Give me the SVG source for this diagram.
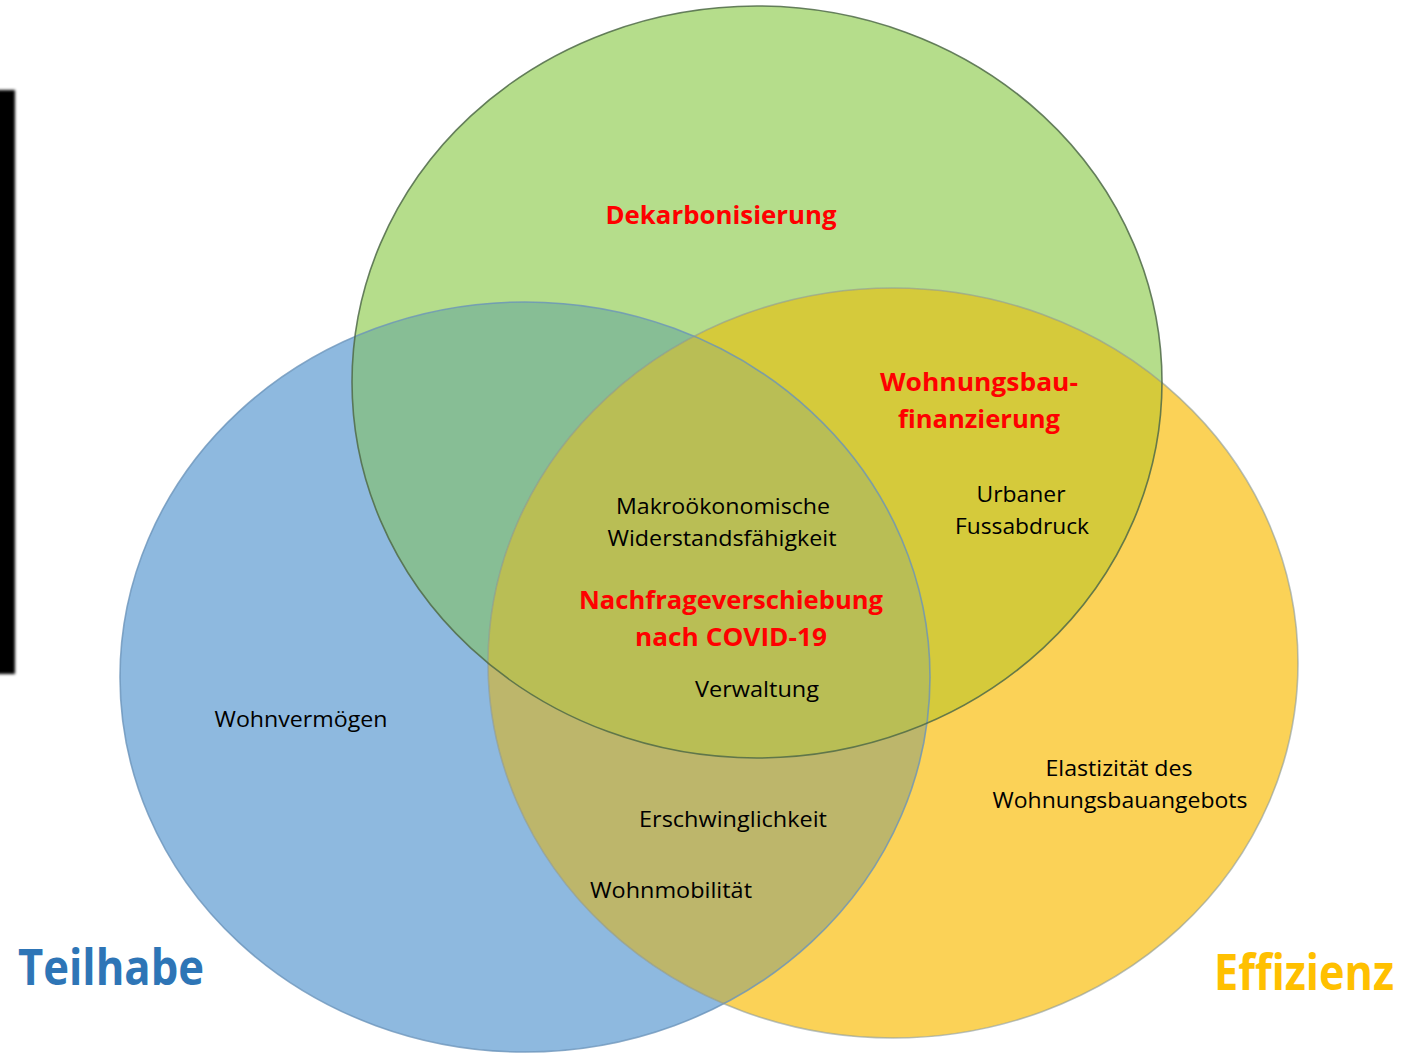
<svg xmlns="http://www.w3.org/2000/svg" width="1402" height="1053" viewBox="0 0 1402 1053">
<defs>
<style>
.t{font-family:"Open Sans","Noto Sans",sans-serif;font-size:21.5px;fill:#000;text-anchor:middle}
.r{font-family:"Open Sans","Noto Sans",sans-serif;font-size:25px;font-weight:bold;fill:#FF0000;text-anchor:middle}
.big{font-family:"Open Sans","Noto Sans",sans-serif;font-size:50px;font-weight:bold}
</style>
<clipPath id="cB"><ellipse cx="525" cy="677" rx="405" ry="375"/></clipPath>
<clipPath id="cG"><ellipse cx="757" cy="382" rx="405" ry="376"/></clipPath>
<filter id="blur" x="-50%" y="-5%" width="200%" height="110%"><feGaussianBlur stdDeviation="1.8"/></filter>
</defs>
<rect width="1402" height="1053" fill="#FFFFFF"/>
<rect x="-4" y="90" width="19" height="584" fill="#000" filter="url(#blur)"/>
<g id="circles">
<g id="teilhabe-circle"><ellipse cx="525" cy="677" rx="405" ry="375" fill="#8EB9DF"/></g>
<g id="dekarb-circle"><ellipse cx="757" cy="382" rx="405" ry="376" fill="#B5DD8B"/></g>
<g id="effizienz-circle"><ellipse cx="893" cy="663" rx="405" ry="375" fill="#FBD257"/></g>
<ellipse cx="757" cy="382" rx="405" ry="376" fill="#87BE95" clip-path="url(#cB)"/>
<ellipse cx="893" cy="663" rx="405" ry="375" fill="#BDB66B" clip-path="url(#cB)"/>
<ellipse cx="893" cy="663" rx="405" ry="375" fill="#D5CA3B" clip-path="url(#cG)"/>
<g clip-path="url(#cB)"><ellipse cx="893" cy="663" rx="405" ry="375" fill="#B9BE55" clip-path="url(#cG)"/></g>
<ellipse cx="525" cy="677" rx="405" ry="375" fill="none" stroke="#6A93BA" stroke-width="1.6" stroke-opacity="0.8"/>
<ellipse cx="893" cy="663" rx="405" ry="375" fill="none" stroke="#8A9A9A" stroke-width="1.6" stroke-opacity="0.6"/>
<ellipse cx="757" cy="382" rx="405" ry="376" fill="none" stroke="#4F6A48" stroke-width="1.6" stroke-opacity="0.85"/>
</g>
<g id="labels">
<text class="r" x="721" y="224" textLength="231" lengthAdjust="spacingAndGlyphs">Dekarbonisierung</text>
<text class="r" x="979" y="391" textLength="198" lengthAdjust="spacingAndGlyphs">Wohnungsbau-</text>
<text class="r" x="979" y="428" textLength="162" lengthAdjust="spacingAndGlyphs">finanzierung</text>
<text class="t" x="1021" y="502" textLength="89" lengthAdjust="spacingAndGlyphs">Urbaner</text>
<text class="t" x="1022" y="534" textLength="134" lengthAdjust="spacingAndGlyphs">Fussabdruck</text>
<text class="t" x="723" y="514" textLength="214" lengthAdjust="spacingAndGlyphs">Makroökonomische</text>
<text class="t" x="722" y="546" textLength="229" lengthAdjust="spacingAndGlyphs">Widerstandsfähigkeit</text>
<text class="r" x="731" y="609" textLength="304" lengthAdjust="spacingAndGlyphs">Nachfrageverschiebung</text>
<text class="r" x="731" y="646" textLength="192" lengthAdjust="spacingAndGlyphs">nach COVID-19</text>
<text class="t" x="757" y="697" textLength="124" lengthAdjust="spacingAndGlyphs">Verwaltung</text>
<text class="t" x="301" y="727" textLength="173" lengthAdjust="spacingAndGlyphs">Wohnvermögen</text>
<text class="t" x="1119" y="776" textLength="147" lengthAdjust="spacingAndGlyphs">Elastizität des</text>
<text class="t" x="1120" y="808" textLength="255" lengthAdjust="spacingAndGlyphs">Wohnungsbauangebots</text>
<text class="t" x="733" y="827" textLength="188" lengthAdjust="spacingAndGlyphs">Erschwinglichkeit</text>
<text class="t" x="671" y="898" textLength="162" lengthAdjust="spacingAndGlyphs">Wohnmobilität</text>
<text class="big" x="18" y="985" fill="#2E75B6" textLength="186" lengthAdjust="spacingAndGlyphs">Teilhabe</text>
<text class="big" transform="translate(1214,990) scale(1,1.16)" x="0" y="0" style="font-size:43px" fill="#FFC000" textLength="180" lengthAdjust="spacingAndGlyphs">Effizienz</text>
</g>
</svg>
